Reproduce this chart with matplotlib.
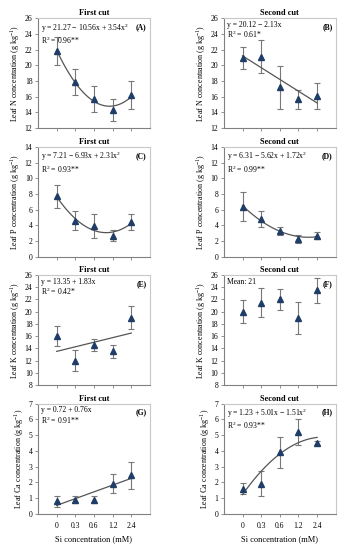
import matplotlib
matplotlib.use("Agg")
import matplotlib.pyplot as plt
import numpy as np

plt.rcParams['font.family'] = ['Liberation Serif', 'DejaVu Serif']
plt.rcParams['mathtext.fontset'] = 'custom'
plt.rcParams['mathtext.rm'] = 'Liberation Serif'

si_labels = ["0", "0.3", "0.6", "1.2", "2.4"]

n_first = [21.8, 17.9, 15.7, 14.3, 16.2]
n_first_err = [1.8, 1.65, 1.65, 1.4, 1.8]
n_second = [20.9, 21.1, 17.2, 15.7, 16.1]
n_second_err = [1.4, 2.1, 2.7, 1.2, 1.7]

p_first = [7.7, 4.6, 3.9, 2.7, 4.4]
p_first_err = [1.5, 1.2, 1.5, 0.7, 1.0]
p_second = [6.4, 4.8, 3.3, 2.3, 2.7]
p_second_err = [1.8, 1.0, 0.5, 0.5, 0.4]

k_first = [16.0, 12.0, 14.5, 13.5, 19.0]
k_first_err = [1.6, 1.7, 1.0, 1.0, 1.9]
k_second = [20.0, 21.5, 22.0, 19.0, 23.5]
k_second_err = [1.9, 2.4, 1.7, 2.6, 2.0]

ca_first = [0.8, 0.9, 0.9, 1.9, 2.45]
ca_first_err = [0.35, 0.2, 0.2, 0.6, 0.85]
ca_second = [1.6, 1.9, 3.9, 5.2, 4.5]
ca_second_err = [0.35, 0.8, 1.0, 0.8, 0.15]

panels = [
    ("First cut", n_first, n_first_err, 2, "y = 21.27 \u2212 10.56x + 3.54x$^2$\nR$^2$ = 0.96**", "(A)", "N", (12, 26, 2)),
    ("Second cut", n_second, n_second_err, 1, "y = 20.12 \u2212 2.13x\nR$^2$ = 0.61*", "(B)", "N", (12, 26, 2)),
    ("First cut", p_first, p_first_err, 2, "y = 7.21 \u2212 6.93x + 2.31x$^2$\nR$^2$ = 0.93**", "(C)", "P", (0, 14, 2)),
    ("Second cut", p_second, p_second_err, 2, "y = 6.31 \u2212 5.62x + 1.72x$^2$\nR$^2$ = 0.99**", "(D)", "P", (0, 14, 2)),
    ("First cut", k_first, k_first_err, 1, "y = 13.35 + 1.83x\nR$^2$ = 0.42*", "(E)", "K", (8, 26, 2)),
    ("Second cut", k_second, k_second_err, 0, "Mean: 21", "(F)", "K", (8, 26, 2)),
    ("First cut", ca_first, ca_first_err, 1, "y = 0.72 + 0.76x\nR$^2$ = 0.91**", "(G)", "Ca", (0, 7, 1)),
    ("Second cut", ca_second, ca_second_err, 2, "y = 1.23 + 5.01x \u2212 1.51x$^2$\nR$^2$ = 0.93**", "(H)", "Ca", (0, 7, 1)),
]

fig = plt.figure(figsize=(3.52, 5.5), dpi=100)
lefts = [0.108, 0.636]
bottoms = [0.767, 0.533, 0.300, 0.066]
w, h = 0.318, 0.200
pos = np.arange(5)
spine_dark = "#808080"
spine_light = "#c8c8c8"
marker_col = "#1f3d66"

for i, (title, vals, errs, deg, eq, tag, elem, (ymin, ymax, step)) in enumerate(panels):
    row, col = divmod(i, 2)
    ax = fig.add_axes([lefts[col], bottoms[row], w, h])
    ax.errorbar(pos, vals, yerr=errs, fmt="none", ecolor="#787878",
                elinewidth=0.8, capsize=2.2, capthick=0.8, zorder=2)
    ax.plot(pos, vals, linestyle="none", marker="^", markersize=4.5,
            color=marker_col, zorder=4)
    # fitted trend drawn over the category positions
    if deg > 0:
        coef = np.polyfit(pos, vals, deg)
        xs = np.linspace(0, 4, 100)
        ax.plot(xs, np.polyval(coef, xs), color="#555555", lw=0.9, zorder=3)
    ax.set_xlim(-1, 5)
    ax.set_ylim(ymin, ymax)
    ax.set_yticks(np.arange(ymin, ymax + 0.01, step))
    ax.set_xticks(pos)
    if row == 3:
        ax.set_xticklabels(si_labels)
        ax.set_xlabel("Si concentration (mM)", fontsize=6, labelpad=4)
    else:
        ax.set_xticklabels([])
    ax.set_ylabel("Leaf " + elem + " concentration (g kg$^{-1}$)", fontsize=5.8, labelpad=2)
    ax.set_title(title, fontsize=6, fontweight="bold", pad=2)
    ax.tick_params(direction="out", length=2.5, width=0.6, color=spine_dark,
                   labelsize=5.5, pad=1.5)
    ax.tick_params(axis="x", pad=3.5)
    for s in ["left", "bottom"]:
        ax.spines[s].set_color(spine_dark)
        ax.spines[s].set_linewidth(0.8)
    for s in ["top", "right"]:
        ax.spines[s].set_color(spine_light)
        ax.spines[s].set_linewidth(0.8)
    ax.text(0.03, 0.975, eq, transform=ax.transAxes, fontsize=5.5,
            va="top", ha="left", linespacing=0.95)
    ax.text(0.97, 0.955, tag, transform=ax.transAxes, fontsize=5.5,
            fontweight="bold", va="top", ha="right")

fig.savefig("out.png", dpi=100)
